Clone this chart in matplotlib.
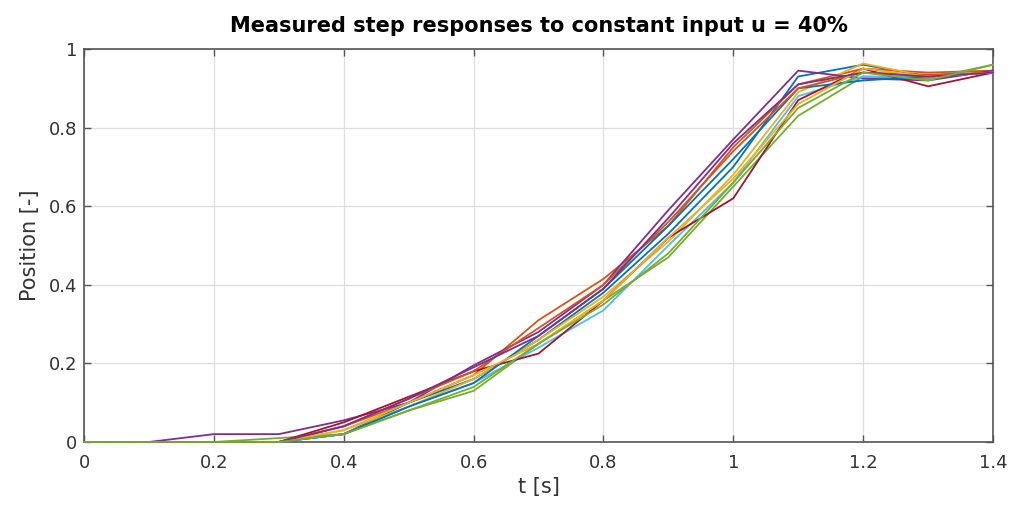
import matplotlib
matplotlib.use("Agg")
import matplotlib.pyplot as plt
import numpy as np

t = [0.0, 0.1, 0.2, 0.3, 0.4, 0.5, 0.6, 0.7, 0.8, 0.9, 1.0, 1.1, 1.2, 1.3, 1.4]

run01 = [0, 0, 0, 0, 0.02, 0.10, 0.16, 0.26, 0.38, 0.53, 0.70, 0.93, 0.96, 0.93, 0.94]
run02 = [0, 0, 0, 0, 0.04, 0.10, 0.17, 0.31, 0.415, 0.55, 0.75, 0.91, 0.95, 0.94, 0.945]
run03 = [0, 0, 0, 0, 0.03, 0.09, 0.16, 0.26, 0.37, 0.51, 0.68, 0.89, 0.963, 0.93, 0.94]
run04 = [0, 0, 0.02, 0.02, 0.055, 0.10, 0.195, 0.28, 0.40, 0.59, 0.77, 0.945, 0.925, 0.92, 0.945]
run05 = [0, 0, 0, 0.01, 0.02, 0.08, 0.13, 0.25, 0.36, 0.47, 0.65, 0.83, 0.93, 0.925, 0.96]
run06 = [0, 0, 0, 0, 0.02, 0.09, 0.15, 0.24, 0.335, 0.50, 0.66, 0.88, 0.93, 0.93, 0.94]
run07 = [0, 0, 0, 0, 0.05, 0.115, 0.18, 0.225, 0.36, 0.52, 0.62, 0.87, 0.95, 0.905, 0.94]
run08 = [0, 0, 0, 0, 0.02, 0.09, 0.15, 0.27, 0.39, 0.55, 0.72, 0.90, 0.92, 0.93, 0.94]
run09 = [0, 0, 0, 0, 0.04, 0.11, 0.18, 0.29, 0.40, 0.56, 0.74, 0.90, 0.94, 0.935, 0.94]
run10 = [0, 0, 0, 0, 0.03, 0.10, 0.17, 0.25, 0.36, 0.52, 0.67, 0.86, 0.95, 0.93, 0.94]
run11 = [0, 0, 0, 0, 0.04, 0.11, 0.19, 0.27, 0.39, 0.57, 0.76, 0.91, 0.94, 0.93, 0.94]
run12 = [0, 0, 0, 0, 0.02, 0.08, 0.14, 0.25, 0.35, 0.48, 0.66, 0.85, 0.94, 0.92, 0.96]

runs = [run01, run02, run03, run04, run05, run06, run07, run08, run09, run10, run11, run12]
colors = ["#0072BD", "#D95319", "#EDB120", "#7E2F8E", "#77AC30", "#4DBEEE", "#A2142F"]

xticks = [0, 0.2, 0.4, 0.6, 0.8, 1.0, 1.2, 1.4]
xticklabels = ["0", "0.2", "0.4", "0.6", "0.8", "1", "1.2", "1.4"]
yticks = [0, 0.2, 0.4, 0.6, 0.8, 1.0]
yticklabels = ["0", "0.2", "0.4", "0.6", "0.8", "1"]

plt.rcParams['font.family'] = ['DejaVu Sans']

fig = plt.figure(figsize=(10.13, 5.08), dpi=100)
ax = fig.add_axes([84/1013, 66/508, 909/1013, 393/508])

for i, r in enumerate(runs):
    ax.plot(t, r, color=colors[i % len(colors)], lw=1.3, zorder=3, clip_on=False)

ax.set_xlim(0, 1.4)
ax.set_ylim(0, 1)
ax.set_xticks(xticks)
ax.set_xticklabels(xticklabels)
ax.set_yticks(yticks)
ax.set_yticklabels(yticklabels)
ax.grid(True, color="#dedede", lw=0.9)
ax.set_axisbelow(True)
for s in ax.spines.values():
    s.set_color("#555555")
    s.set_linewidth(1.2)
ax.tick_params(direction="in", length=5, width=1.0, colors="#555555",
               labelcolor="#333333", labelsize=13, top=True, right=True)
ax.tick_params(axis="x", pad=9)
ax.tick_params(axis="y", pad=5)
ax.set_xlabel("t [s]", fontsize=15, color="#333333", labelpad=3)
ax.set_ylabel("Position [-]", fontsize=15, color="#333333", labelpad=6)
ax.set_title("Measured step responses to constant input u = 40%", fontsize=15,
             fontweight="bold", color="black", pad=12)

fig.savefig("out.png", dpi=100)
